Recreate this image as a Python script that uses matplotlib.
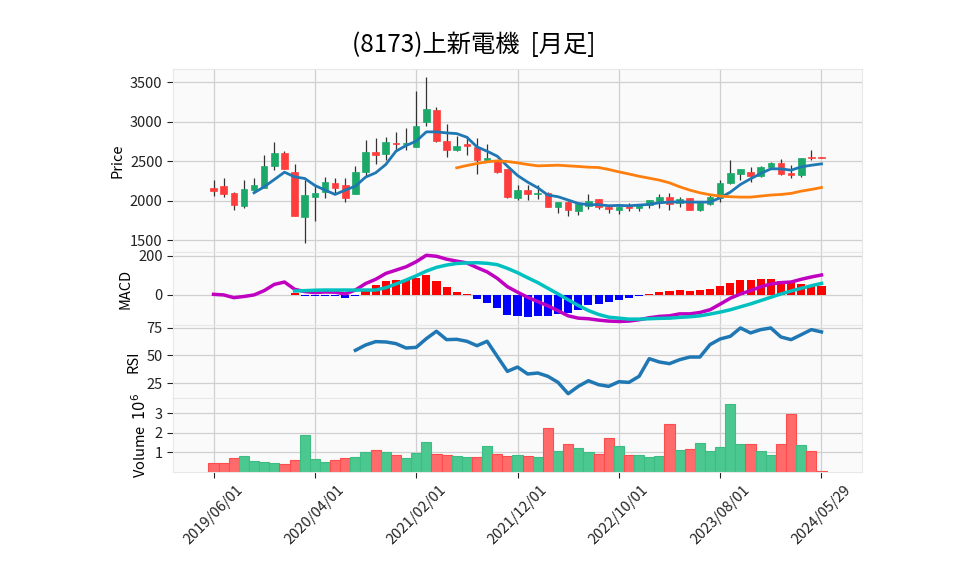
import numpy as np
import pandas as pd
import matplotlib
matplotlib.use("Agg")
import matplotlib.pyplot as plt

plt.rcParams['font.family'] = ['Noto Sans CJK JP', 'DejaVu Sans']

nan = np.nan

# monthly bars, 2019/06 .. 2024/05 plus the latest row 2024/05/29
dates = list(pd.date_range('2019-06-01', periods=60, freq='MS').strftime('%Y/%m/%d')) + ['2024/05/29']

opens = [2153, 2178, 2090, 1930, 2132, 2161, 2431, 2607, 2367, 1791,
         2043, 2102, 2216, 2191, 2081, 2359, 2620, 2586, 2734, 2717,
         2679, 2991, 3151, 2759, 2637, 2721, 2679, 2511, 2506, 2401,
         2031, 2136, 2081, 2098, 1917, 1984, 1871, 1930, 2014, 1917,
         1883, 1930, 1904, 1938, 1993, 2039, 1972, 2027, 1875, 1955,
         2035, 2224, 2330, 2367, 2309, 2422, 2477, 2351, 2317, 2547, 2555]
highs = [2266, 2279, 2106, 2266, 2279, 2582, 2746, 2624, 2464, 2258,
         2182, 2292, 2279, 2279, 2435, 2767, 2793, 2805, 2869, 2915,
         3386, 3563, 3184, 2970, 2814, 2814, 2793, 2717, 2519, 2405,
         2195, 2191, 2191, 2106, 1984, 1993, 1972, 2085, 2014, 1930,
         1938, 1972, 1960, 2001, 2077, 2098, 2047, 2035, 1980, 2064,
         2266, 2519, 2393, 2426, 2443, 2485, 2527, 2447, 2540, 2641, 2555]
lows = [2056, 2048, 1883, 1904, 2098, 2153, 2384, 2393, 1803, 1458,
        1740, 2035, 2098, 1980, 2081, 2309, 2464, 2519, 2633, 2645,
        2679, 2940, 2738, 2553, 2624, 2570, 2338, 2486, 2351, 2035,
        2010, 2010, 2014, 1917, 1841, 1808, 1816, 1896, 1896, 1845,
        1824, 1871, 1867, 1909, 1909, 1879, 1921, 1879, 1867, 1938,
        1980, 2203, 2254, 2233, 2300, 2393, 2317, 2288, 2300, 2510, 2538]
closes = [2119, 2081, 1942, 2140, 2191, 2431, 2607, 2405, 1803, 2073,
          2098, 2229, 2157, 2031, 2367, 2620, 2574, 2746, 2713, 2734,
          2948, 3163, 2751, 2637, 2696, 2696, 2511, 2532, 2359, 2043,
          2136, 2077, 2098, 1917, 1984, 1879, 1951, 1997, 1917, 1892,
          1917, 1904, 1951, 2001, 2043, 1951, 2022, 1883, 1964, 2047,
          2224, 2351, 2393, 2309, 2426, 2469, 2334, 2321, 2540, 2540, 2540]
volumes = [470000, 470000, 710000, 830000, 570000, 520000, 470000, 410000, 620000, 1910000,
           670000, 520000, 620000, 710000, 780000, 1030000, 1140000, 1030000, 880000, 720000,
           980000, 1550000, 930000, 880000, 830000, 780000, 780000, 1340000, 930000, 830000,
           880000, 830000, 780000, 2260000, 1090000, 1450000, 1240000, 1030000, 930000, 1740000,
           1340000, 880000, 880000, 780000, 830000, 2480000, 1140000, 1190000, 1500000, 1090000,
           1290000, 3470000, 1450000, 1450000, 1090000, 880000, 1450000, 2950000, 1400000, 1090000, 50000]
vol_up = [0, 0, 0, 1, 1, 1, 1, 0, 0, 1,
          1, 1, 0, 0, 1, 1, 0, 1, 0, 1,
          1, 1, 0, 0, 1, 1, 0, 1, 0, 0,
          1, 0, 1, 0, 1, 0, 1, 1, 0, 0,
          1, 0, 1, 1, 1, 0, 1, 0, 1, 1,
          1, 1, 1, 0, 1, 1, 0, 0, 1, 0, 0]

ma_short = [nan, nan, nan, nan, 2098, 2174, 2266, 2359, 2300, 2279,
            2191, 2132, 2077, 2132, 2182, 2296, 2351, 2456, 2624, 2696,
            2751, 2869, 2869, 2856, 2847, 2801, 2679, 2624, 2561, 2435,
            2317, 2233, 2161, 2069, 2048, 2006, 1963, 1947, 1947, 1934,
            1938, 1934, 1942, 1951, 1972, 1980, 1984, 1980, 1980, 1980,
            2035, 2106, 2203, 2275, 2342, 2401, 2401, 2384, 2426, 2447, 2464]
ma_long = [nan] * 24 + [2414, 2443, 2469, 2490, 2502, 2494,
                        2477, 2456, 2439, 2443, 2447, 2439, 2431, 2422, 2418, 2393,
                        2363, 2336, 2307, 2283, 2258, 2224, 2174, 2132, 2098, 2073,
                        2056, 2048, 2043, 2043, 2056, 2069, 2077, 2090, 2119, 2140, 2165]

macd = [3, 0, -14, -8, 0, 22, 54, 66, 29, 17,
        12, 15, 14, 5, 25, 58, 80, 110, 127, 144,
        170, 203, 198, 183, 173, 164, 140, 118, 85, 42,
        14, -12, -34, -56, -81, -107, -119, -122, -129, -134,
        -136, -134, -127, -117, -110, -107, -97, -97, -90, -76,
        -47, -17, 5, 22, 42, 56, 63, 66, 80, 92, 102]
signal = [nan] * 8 + [20, 22,
          24, 25, 25, 25, 25, 25, 25, 37, 56, 76,
          98, 122, 141, 153, 161, 164, 165, 162, 155, 136,
          114, 88, 63, 34, 5, -25, -54, -80, -100, -114,
          -119, -124, -124, -122, -120, -119, -115, -112, -107, -98,
          -88, -76, -61, -46, -29, -12, 5, 20, 34, 47, 59]
hist = [nan] * 8 + [10, -6,
        -5, -5, -7, -17, -3, 30, 52, 72, 76, 76,
        85, 100, 70, 40, 17, 4, -23, -42, -66, -102,
        -108, -114, -108, -110, -100, -95, -75, -53, -45, -35,
        -27, -17, -3, 5, 14, 20, 25, 20, 25, 31,
        44, 61, 76, 76, 81, 81, 71, 66, 56, 51, 46]

rsi = [nan] * 14 + [54.7, 59.5, 62.6, 62.3, 60.8, 56.8,
       57.4, 65.3, 72.0, 64.4, 64.7, 62.9, 58.9, 62.9, 49.2, 35.6,
       39.5, 33.2, 34.1, 31.1, 25.6, 15.3, 22.0, 27.1, 23.5, 22.0,
       26.2, 25.6, 31.1, 47.1, 44.1, 42.6, 46.2, 48.6, 48.6, 59.9,
       65.0, 67.4, 75.0, 70.5, 73.5, 75.0, 66.8, 64.4, 68.9, 73.5, 71.4]

title = '(8173)上新電機  [月足]'

# ---------------------------------------------------------------
x = np.arange(len(dates))
o = np.array(opens, float)
c = np.array(closes, float)
up = c >= o

fig = plt.figure(figsize=(9.58, 5.75), dpi=100)
L, W = 0.1806, 0.7192
ax_p = fig.add_axes([L, 0.5617, W, 0.3183])
ax_m = fig.add_axes([L, 0.4348, W, 0.1270], sharex=ax_p)
ax_r = fig.add_axes([L, 0.3078, W, 0.1270], sharex=ax_p)
ax_v = fig.add_axes([L, 0.1791, W, 0.1287], sharex=ax_p)

tick_pos = list(range(0, len(dates), 10))
tick_lab = [dates[i] for i in tick_pos]

for ax in (ax_p, ax_m, ax_r, ax_v):
    ax.set_facecolor('#fafafa')
    ax.grid(True, color='#d0d0d0', lw=0.9)
    ax.set_axisbelow(True)
    for s in ax.spines.values():
        s.set_color('#e8e8e8')
        s.set_linewidth(0.8)
    ax.tick_params(axis='y', length=4, color='#222222', labelsize=10.5, labelcolor='#222222')
    ax.tick_params(axis='x', length=0, labelbottom=False)
    ax.yaxis.label.set_size(10.5)

# price panel
up_col, dn_col = '#1aa968', '#ff3d3d'
ax_p.vlines(x, lows, highs, color='#333333', lw=0.9, zorder=2)
body_h = np.maximum(np.abs(c - o), 8)
ax_p.bar(x, body_h, bottom=np.minimum(o, c), width=0.65,
         color=np.where(up, up_col, dn_col), edgecolor=np.where(up, up_col, dn_col),
         lw=0.5, zorder=3)
ax_p.plot(x, ma_short, color='#1f77b4', lw=2, zorder=4)
ax_p.plot(x, ma_long, color='#ff7f0e', lw=2, zorder=4)
ax_p.set_ylim(1348, 3665)
ax_p.set_yticks([1500, 2000, 2500, 3000, 3500])
ax_p.set_ylabel('Price')

# MACD panel
h = np.array(hist, float)
ax_m.bar(x, h, width=0.8, color=np.where(h >= 0, '#ff0000', '#0000ff'), zorder=2)
ax_m.plot(x, macd, color='#c000c0', lw=2.5, zorder=3)
ax_m.plot(x, signal, color='#00c0c0', lw=2.5, zorder=3)
ax_m.set_ylim(-154, 220)
ax_m.set_yticks([0, 200])
ax_m.set_ylabel('MACD')

# RSI panel
ax_r.plot(x, rsi, color='#1f77b4', lw=2.5)
ax_r.set_ylim(11.4, 77.7)
ax_r.set_yticks([25, 50, 75])
ax_r.set_ylabel('RSI')

# volume panel
v = np.array(volumes, float) / 1e6
vu = np.array(vol_up, bool)
ax_v.bar(x, v, width=1.0, color=np.where(vu, '#4bc890', '#ff6b6b'),
         edgecolor=np.where(vu, '#3dbd83', '#ff4d4d'), lw=0.8, zorder=2)
ax_v.set_ylim(0, 3.79)
ax_v.set_yticks([1, 2, 3])
ax_v.set_ylabel('Volume  $10^{6}$')

ax_v.set_xlim(-4, 64)
ax_v.set_xticks(tick_pos)
ax_v.set_xticklabels(tick_lab, rotation=45, ha='center', fontsize=10.5, color='#222222')
ax_v.tick_params(axis='x', length=4, color='#222222', labelbottom=True)

fig.suptitle(title, x=0.494, y=0.945, fontsize=17.5)

fig.savefig('out.png', dpi=100)
